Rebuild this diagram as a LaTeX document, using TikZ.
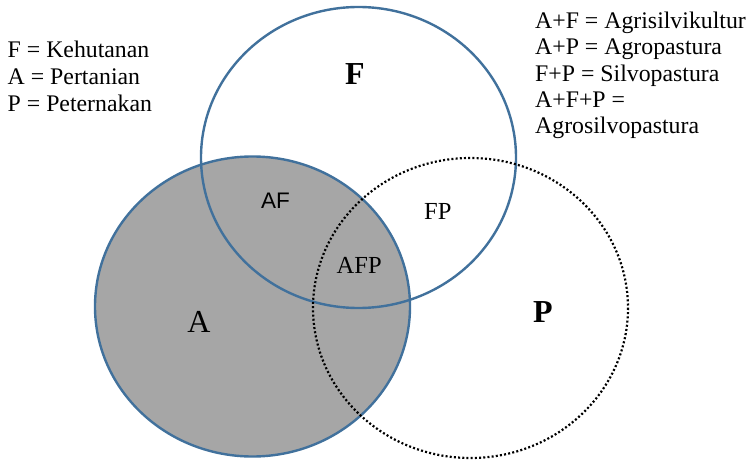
\documentclass[tikz,border=0pt]{standalone}
\usepackage{fontspec}
\setmainfont{Liberation Serif}
\newfontfamily\sansf{Liberation Sans}
\definecolor{vblue}{RGB}{65,113,156}
\definecolor{vgray}{RGB}{166,166,166}
\begin{document}
\begin{tikzpicture}[x=1pt,y=-1pt,
  ring/.style={draw=vblue,line width=2.4pt},
  dotring/.style={draw=black,line width=2.2pt,dash pattern=on 2pt off 2.2pt},
  legend/.style={anchor=base west,inner sep=0pt,font=\fontsize{23.8}{27}\selectfont},
  biglab/.style={inner sep=0pt,font=\fontsize{32}{36}\selectfont},
  smalllab/.style={inner sep=0pt,font=\fontsize{24.5}{28}\selectfont}]
\useasboundingbox (0,0) rectangle (750,460);
% A (filled)
\path[ring,fill=vgray] (252.5,306.5) ellipse [x radius=157.5, y radius=150];
% F
\path[ring] (358.5,157.5) ellipse [x radius=157.5, y radius=150.5];
% P
\path[dotring] (470.5,308) ellipse [x radius=157.5, y radius=150];
% region labels
\node[biglab,font=\fontsize{32}{36}\selectfont\bfseries] (lF) at (355,74.5) {F};
\node[biglab] (lA) at (199,321.5) {A};
\node[biglab,font=\fontsize{32}{36}\selectfont\bfseries] (lP) at (543,312.5) {P};
\node[inner sep=0pt,font=\sansf\fontsize{22.5}{26}\selectfont] (lAF) at (275.5,200.5) {AF};
\node[smalllab] (lFP) at (437.8,211.7) {FP};
\node[smalllab] (lAFP) at (359.2,265.5) {AFP};
% legends
\node[legend] (l1) at (7.5,57.3) {F = Kehutanan};
\node[legend] (l2) at (7.5,84.5) {A = Pertanian};
\node[legend] (l3) at (7.5,111.7) {P = Peternakan};
\node[legend] (r1) at (535,28.3) {A+F = Agrisilvikultur};
\node[legend] (r2) at (535,55) {A+P = Agropastura};
\node[legend] (r3) at (535,81.7) {F+P = Silvopastura};
\node[legend] (r4) at (535,107.5) {A+F+P =};
\node[legend] (r5) at (535,133.8) {Agrosilvopastura};
\end{tikzpicture}
\end{document}
